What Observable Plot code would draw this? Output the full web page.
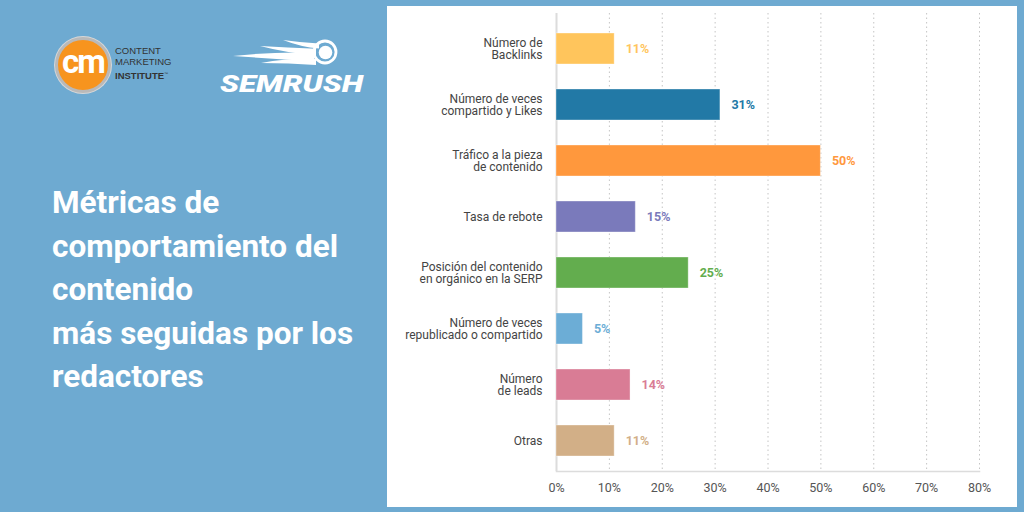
<!DOCTYPE html>
<html><head><meta charset="utf-8">
<script src="https://cdn.jsdelivr.net/npm/d3@7"></script>
<script src="https://cdn.jsdelivr.net/npm/@observablehq/plot@0.6"></script>
<style>
html,body{margin:0;padding:0;}
body{width:1024px;height:512px;background:#6eaad1;position:relative;overflow:hidden;font-family:Roboto,sans-serif;}
#panel{position:absolute;left:387px;top:6px;width:630px;height:501px;background:#fff;}
#panel svg{display:block;}
#title{position:absolute;left:52px;top:181px;color:#fff;font-weight:700;font-size:31.5px;line-height:43.5px;white-space:nowrap;}
#cmcircle{position:absolute;left:55px;top:37px;width:50px;height:50px;border-radius:50%;background:#f7941e;border:3px solid #b9b9b9;box-shadow:0 0 0 1px #d8d8d8;}
#cmcircle span{position:absolute;left:0;right:0;top:4px;text-align:center;color:#fff;font-weight:700;font-size:33px;letter-spacing:-2px;line-height:36px;}
#cmtext{position:absolute;left:115px;top:45px;color:#333;font-size:9.5px;line-height:11.3px;font-family:"Liberation Sans",Arial,sans-serif;}
#cmtext b{font-weight:700;}
#semrush{position:absolute;left:215px;top:35px;}
</style></head>
<body>
<div id="cmcircle"><span>cm</span></div>
<div id="cmtext">CONTENT<br>MARKETING<br><b>INSTITUTE</b><sup style="font-size:4px">™</sup></div>
<svg id="semrush" width="160" height="62"></svg>
<div id="title">Métricas de<br>comportamiento del<br>contenido<br>más seguidas por los<br>redactores</div>
<div id="panel"></div>
<script>
// ---- data ----
const categories = [
  "Número de\nBacklinks",
  "Número de veces\ncompartido y Likes",
  "Tráfico a la pieza\nde contenido",
  "Tasa de rebote",
  "Posición del contenido\nen orgánico en la SERP",
  "Número de veces\nrepublicado o compartido",
  "Número\nde leads",
  "Otras"
];
const values = [11, 31, 50, 15, 25, 5, 14, 11];
const barColors = ["#FFC55C", "#2279A6", "#FF983D", "#7A7ABB", "#63AD4E", "#6CADD6", "#D97C95", "#D2AF87"];
const xTicks = [0, 10, 20, 30, 40, 50, 60, 70, 80];

const data = categories.map((c, i) => ({cat: c, value: values[i], color: barColors[i]}));

// ---- SEMrush logo (decorative) ----
(function(){
  const s = d3.select("#semrush");
  const flames = [[68,5,104,11,2.6],[45,11,101,17,3.2],[18,21,99,22,4.2],[46,28,101,27,3.0]];
  flames.forEach(([x0,y0,x1,y1,h])=>{
    s.append("path").attr("fill","#fff")
     .attr("d",`M${x0},${y0} Q${(x0+x1)/2},${y1-h*1.3} ${x1},${y1-h} L${x1},${y1+h} Q${(x0+x1)/2},${y1+h*0.4} ${x0},${y0} Z`);
  });
  s.append("circle").attr("cx",110).attr("cy",17).attr("r",11).attr("fill","none").attr("stroke","#fff").attr("stroke-width",2.8);
  s.append("circle").attr("cx",110.5).attr("cy",17.5).attr("r",6.8).attr("fill","#fff");
  s.append("text").attr("x",5).attr("y",57).attr("fill","#fff")
   .attr("font-family","Roboto").attr("font-weight",900).attr("font-style","italic")
   .attr("font-size",24).attr("textLength",143).attr("lengthAdjust","spacingAndGlyphs").text("SEMRUSH");
})();

// ---- chart ----
const chart = Plot.plot({
  width: 630,
  height: 501,
  marginLeft: 169,
  marginRight: 38,
  marginTop: 14,
  marginBottom: 39,
  style: {fontFamily: "Roboto", background: "transparent"},
  x: {domain: [0, 80]},
  y: {domain: categories, paddingInner: 0.45, paddingOuter: 0.225},
  color: {type: "identity"},
  marks: [
    Plot.ruleX(xTicks.filter(d => d > 0), {stroke: "#c4c4c4", strokeDasharray: "1.5,3", insetTop: -7, insetBottom: -3}),
    Plot.frame({anchor: "bottom", stroke: "#dcdcdc", strokeWidth: 1.5, dy: 3}),
    Plot.ruleX([0], {stroke: "#dcdcdc", strokeWidth: 2, insetTop: -7, insetBottom: -3}),
    Plot.barX(data, {y: "cat", x: "value", fill: "color", stroke: "white", strokeOpacity: 0.35, strokeWidth: 1}),
    Plot.text(data, {y: "cat", x: "value", text: d => d.value + "%", dx: 11, textAnchor: "start", fill: "color", fontWeight: 700, fontSize: 12.5}),
    Plot.axisY({tickSize: 0, tickPadding: 14, fontSize: 12, lineHeight: 1.02, color: "#444", label: null}),
    Plot.axisX({ticks: xTicks, tickSize: 0, tickPadding: 15, tickFormat: d => d + "%", fontSize: 12.5, color: "#555", label: null})
  ]
});
document.getElementById("panel").appendChild(chart);
</script>
</body></html>
